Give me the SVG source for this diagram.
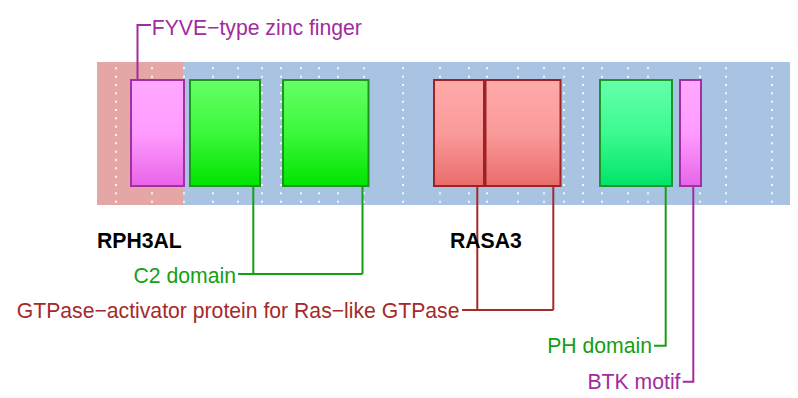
<svg xmlns="http://www.w3.org/2000/svg" width="798" height="398" viewBox="0 0 798 398">
<defs>
<linearGradient id="gMag" x1="0" y1="0" x2="0" y2="1"><stop offset="0" stop-color="#ffa8ff"/><stop offset="0.5" stop-color="#ff9cff"/><stop offset="1" stop-color="#e864e8"/></linearGradient>
<linearGradient id="gGreen" x1="0" y1="0" x2="0" y2="1"><stop offset="0" stop-color="#66ff66"/><stop offset="0.5" stop-color="#3cf83c"/><stop offset="1" stop-color="#00e400"/></linearGradient>
<linearGradient id="gRed" x1="0" y1="0" x2="0" y2="1"><stop offset="0" stop-color="#ffaaaa"/><stop offset="0.5" stop-color="#fa9a9a"/><stop offset="1" stop-color="#ea6c6c"/></linearGradient>
<linearGradient id="gPH" x1="0" y1="0" x2="0" y2="1"><stop offset="0" stop-color="#66ffaa"/><stop offset="0.5" stop-color="#3cfa90"/><stop offset="1" stop-color="#00e468"/></linearGradient>
</defs>
<style>
text{font-family:"Liberation Sans",Arial,sans-serif;font-size:21.2px}
.gene{font-weight:bold;fill:#000}
.dom{stroke-width:2}
.mag{fill:url(#gMag);stroke:#a42ea4}
.grn{fill:url(#gGreen);stroke:#1e961e}
.red{fill:url(#gRed);stroke:#9e2222}
.ph{fill:url(#gPH);stroke:#1e962e}
.con{fill:none;stroke-width:2}
.cPur{stroke:#a02ca0}.tPur{fill:#a02ca0}
.cGrn{stroke:#14a014}.tGrn{fill:#14a014}
.cRed{stroke:#a52a2a}.tRed{fill:#a52a2a}
</style>
<g id="background">
<rect x="97" y="62" width="86" height="143" fill="#e5a6a6"/>
<rect x="183" y="62" width="607" height="143" fill="#a8c4e2"/>
<path d="M116,67.3V203M152,67.3V203M184,67.3V203M213,67.3V203M238,67.3V203M262,67.3V203M281,67.3V203M301,67.3V203M319,67.3V203M338,67.3V203M364,67.3V203M403,67.3V203M440,67.3V203M469,67.3V203M487,67.3V203M518,67.3V203M544,67.3V203M564,67.3V203M583,67.3V203M602,67.3V203M628,67.3V203M648,67.3V203M700,67.3V203M726,67.3V203M772,67.3V203" stroke="#ffffff" stroke-width="2" stroke-dasharray="2 6.333" opacity="0.85" fill="none"/>
</g>
<g id="connectors">
<path class="con cPur" d="M137.5,79V25H151"/>
<path class="con cGrn" d="M253.3,187V274M362.5,187V274M238,274H362.5"/>
<path class="con cRed" d="M477.3,187V310M553.3,187V310M462,310H553.3"/>
<path class="con cGrn" d="M665.7,187V345.7H654"/>
<path class="con cPur" d="M693.3,187V381.7H682.7"/>
</g>
<g id="RPH3AL">
<text class="gene" x="97" y="247.7">RPH3AL</text>
<g id="fyve"><rect class="dom mag" x="131" y="80" width="53" height="106"/></g>
<g id="c2a"><rect class="dom grn" x="190" y="80" width="70" height="106"/></g>
<g id="c2b"><rect class="dom grn" x="283" y="80" width="85.5" height="106"/></g>
</g>
<g id="RASA3">
<text class="gene" x="450" y="247.7">RASA3</text>
<g id="gap1"><rect class="dom red" x="434" y="80" width="50" height="106"/></g>
<g id="gap2"><rect class="dom red" x="485.5" y="80" width="75" height="106"/></g>
<g id="ph"><rect class="dom ph" x="600" y="80" width="72" height="106"/></g>
<g id="btk"><rect class="dom mag" x="680" y="80" width="21" height="106"/></g>
</g>
<g id="labels">
<text class="tPur" x="151.7" y="35">FYVE−type zinc finger</text>
<text class="tGrn" x="236" y="283" text-anchor="end">C2 domain</text>
<text class="tRed" x="459.5" y="318.3" text-anchor="end">GTPase−activator protein for Ras−like GTPase</text>
<text class="tGrn" x="652" y="353.3" text-anchor="end">PH domain</text>
<text class="tPur" x="680.5" y="389.3" text-anchor="end">BTK motif</text>
</g>
</svg>
